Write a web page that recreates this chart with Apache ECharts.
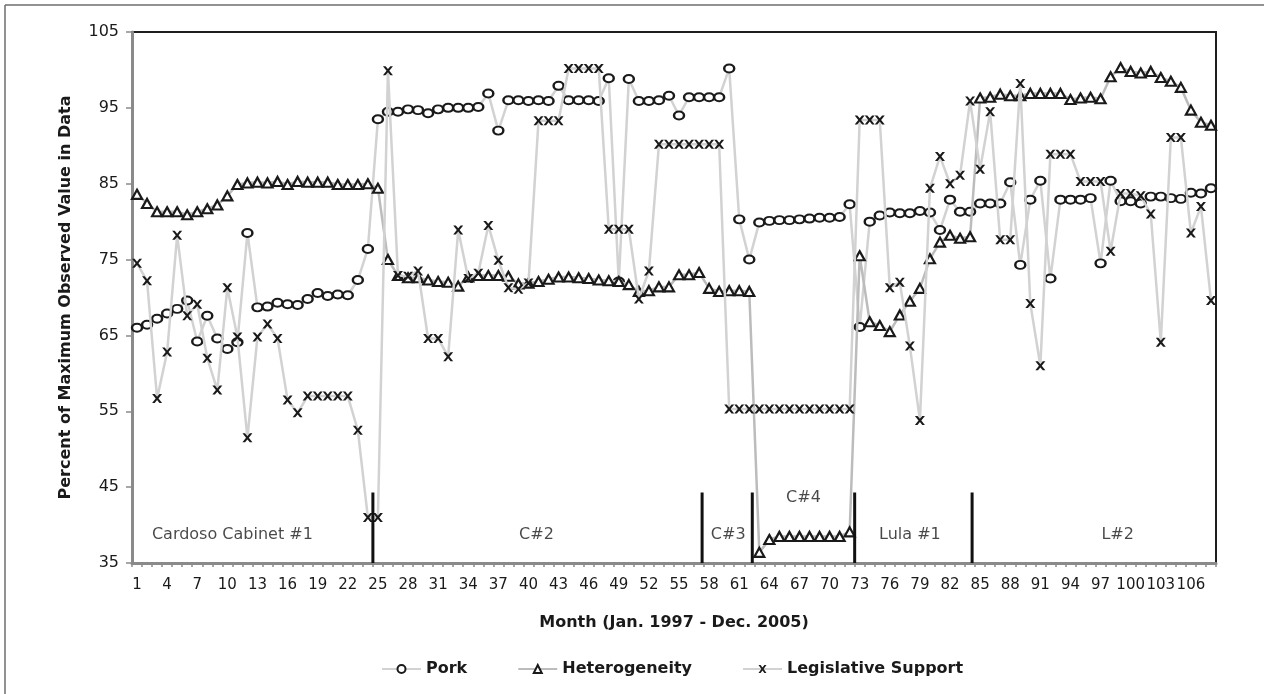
<!DOCTYPE html>
<html><head><meta charset="utf-8">
<script src="https://cdn.jsdelivr.net/npm/echarts@6/dist/echarts.min.js"></script>
<style>html,body{margin:0;padding:0;background:#fff}#c{width:1264px;height:694px}</style>
</head><body><div id="c"></div>
<script>
// Months 1..108 (Jan. 1997 - Dec. 2005)
const months = Array.from({length: 108}, (_, i) => String(i + 1));

const pork = [
  66.0, 66.4, 67.2, 67.9, 68.5, 69.6, 64.2, 67.6, 64.6, 63.2, 64.1, 78.5,
  68.7, 68.8, 69.3, 69.1, 69.0, 69.8, 70.6, 70.2, 70.4, 70.3, 72.3, 76.4,
  93.5, 94.5, 94.5, 94.8, 94.7, 94.3, 94.8, 95.0, 95.0, 95.0, 95.1, 96.9,
  92.0, 96.0, 96.0, 95.9, 96.0, 95.9, 97.9, 96.0, 96.0, 96.0, 95.9, 98.9,
  72.1, 98.8, 95.9, 95.9, 96.0, 96.6, 94.0, 96.4, 96.4, 96.4, 96.4, 100.2,
  80.3, 75.0, 79.9, 80.1, 80.2, 80.2, 80.3, 80.4, 80.5, 80.5, 80.6, 82.3,
  66.1, 80.0, 80.8, 81.2, 81.1, 81.1, 81.4, 81.2, 78.9, 82.9, 81.3, 81.3,
  82.4, 82.4, 82.4, 85.2, 74.3, 82.9, 85.4, 72.5, 82.9, 82.9, 82.9, 83.1,
  74.5, 85.4, 82.7, 82.7, 82.4, 83.3, 83.3, 83.1, 83.0, 83.8, 83.7, 84.4
];

const heterogeneity = [
  83.6, 82.4, 81.3, 81.3, 81.3, 80.9, 81.3, 81.7, 82.2, 83.4, 84.9, 85.1,
  85.2, 85.1, 85.3, 84.9, 85.3, 85.2, 85.2, 85.2, 84.9, 84.9, 84.9, 85.0,
  84.4, 75.0, 72.9, 72.6, 72.6, 72.3, 72.1, 72.0, 71.5, 72.7, 72.9, 72.9,
  72.9, 72.8, 71.8, 71.9, 72.1, 72.4, 72.7, 72.7, 72.6, 72.5, 72.3, 72.2,
  72.1, 71.7, 70.8, 70.9, 71.4, 71.4, 73.0, 73.0, 73.3, 71.2, 70.8, 70.9,
  70.9, 70.8, 36.4, 38.1, 38.5, 38.5, 38.5, 38.5, 38.5, 38.5, 38.5, 39.1,
  75.5, 66.8, 66.3, 65.5, 67.7, 69.5, 71.2, 75.1, 77.3, 78.2, 77.8, 78.0,
  96.3, 96.4, 96.8, 96.6, 96.6, 96.9, 96.9, 96.9, 96.9, 96.1, 96.3, 96.4,
  96.2, 99.1, 100.3, 99.8, 99.6, 99.8, 99.0, 98.5, 97.7, 94.7, 93.1, 92.7
];

const legislativeSupport = [
  74.5, 72.2, 56.7, 62.8, 78.2, 67.6, 69.1, 62.0, 57.8, 71.3, 64.8, 51.5,
  64.8, 66.5, 64.6, 56.5, 54.8, 57.0, 57.0, 57.0, 57.0, 57.0, 52.5, 41.0,
  41.0, 99.9, 72.9, 72.8, 73.5, 64.6, 64.6, 62.2, 78.9, 72.5, 73.2, 79.5,
  74.9, 71.3, 71.1, 71.9, 93.3, 93.3, 93.3, 100.2, 100.2, 100.2, 100.2, 79.0,
  79.0, 79.0, 69.8, 73.5, 90.2, 90.2, 90.2, 90.2, 90.2, 90.2, 90.2, 55.3,
  55.3, 55.3, 55.3, 55.3, 55.3, 55.3, 55.3, 55.3, 55.3, 55.3, 55.3, 55.3,
  93.4, 93.4, 93.4, 71.3, 72.0, 63.6, 53.8, 84.4, 88.6, 85.0, 86.1, 95.9,
  86.9, 94.5, 77.6, 77.6, 98.2, 69.2, 61.0, 88.9, 88.9, 88.9, 85.3, 85.3,
  85.3, 76.1, 83.7, 83.7, 83.4, 81.0, 64.1, 91.1, 91.1, 78.5, 82.0, 69.6
];

// Cabinet change markers (in month units from the start of the axis)
const cabinetBreaks = [24, 56.8, 61.8, 72, 83.7];
const cabinetBreakTop = 44.3;
const cabinetLabels = ['Cardoso Cabinet #1', 'C#2', 'C#3', 'C#4', 'Lula #1', 'L#2'];
const cabinetLabelX = [10, 40.3, 59.4, 66.9, 77.5, 98.2];
const cabinetLabelY = [38.7, 38.7, 38.7, 43.6, 38.7, 38.7];

const yMin = 35, yMax = 105, yStep = 10;

const FONT = "'DejaVu Sans', 'Liberation Sans', Arial, sans-serif";
const xPath = 'path://M0,0 L2.6,0 L5,3.2 L7.4,0 L10,0 L6.4,5 L10,10 L7.4,10 L5,6.8 L2.6,10 L0,10 L3.6,5 Z';

const chart = echarts.init(document.getElementById('c'), null, {renderer: 'canvas'});

const breakSeries = cabinetBreaks.map((b, i) => ({
  type: 'line', name: 'break' + i, xAxisIndex: 1, yAxisIndex: 0,
  data: [[b, yMin], [b, cabinetBreakTop]],
  symbol: 'none', lineStyle: {color: '#111', width: 3}, z: 5, silent: true
}));

chart.setOption({
  animation: false,
  textStyle: {fontFamily: FONT},
  grid: {left: 132, right: 48, top: 32, bottom: 131, show: true, borderColor: '#1e1e1e', borderWidth: 2},
  graphic: [
    {type: 'line', shape: {x1: 5, y1: 5, x2: 1264, y2: 5}, style: {stroke: '#6e6e6e', lineWidth: 1.5}},
    {type: 'line', shape: {x1: 5, y1: 5, x2: 5, y2: 694}, style: {stroke: '#6e6e6e', lineWidth: 1.5}}
  ],
  legend: {
    data: ['Pork', 'Heterogeneity', 'Legislative Support'],
    bottom: 17, left: 381, padding: 0,
    itemWidth: 39, itemHeight: 10, itemGap: 50,
    textStyle: {fontFamily: FONT, fontSize: 16, fontWeight: 'bold', color: '#1a1a1a'}
  },
  xAxis: [
    {
      type: 'category', data: months, boundaryGap: true,
      name: 'Month (Jan. 1997 - Dec. 2005)', nameLocation: 'middle', nameGap: 52,
      nameTextStyle: {fontFamily: FONT, fontSize: 16, fontWeight: 'bold', color: '#1a1a1a'},
      axisLine: {lineStyle: {color: '#8a8a8a', width: 3}},
      axisTick: {show: true, interval: 0, length: 4, lineStyle: {color: '#8a8a8a', width: 1.5}},
      axisLabel: {interval: 2, fontSize: 15, color: '#1a1a1a', margin: 15, fontFamily: FONT, hideOverlap: false},
      splitLine: {show: false}
    },
    {type: 'value', min: 0, max: 108, show: false}
  ],
  yAxis: {
    type: 'value', min: yMin, max: yMax, interval: yStep,
    name: 'Percent of Maximum Observed Value in Data', nameLocation: 'middle', nameGap: 58,
    nameTextStyle: {fontFamily: FONT, fontSize: 16, fontWeight: 'bold', color: '#1a1a1a'},
    axisLine: {show: true, lineStyle: {color: '#8a8a8a', width: 3}},
    axisTick: {show: true, length: 6, lineStyle: {color: '#8a8a8a', width: 1.5}},
    axisLabel: {fontSize: 16, color: '#1a1a1a', margin: 13, fontFamily: FONT},
    splitLine: {show: false}
  },
  series: [
    {
      type: 'line', name: 'Pork', data: pork, showAllSymbol: true,
      symbol: 'circle', symbolSize: [10, 8],
      lineStyle: {color: '#d2d2d2', width: 2.5},
      itemStyle: {color: '#ffffff', borderColor: '#1a1a1a', borderWidth: 2.2},
      z: 2
    },
    {
      type: 'line', name: 'Heterogeneity', data: heterogeneity, showAllSymbol: true,
      symbol: 'triangle', symbolSize: [10, 9],
      lineStyle: {color: '#bcbcbc', width: 2.5},
      itemStyle: {color: '#ffffff', borderColor: '#1a1a1a', borderWidth: 2.2},
      z: 3
    },
    {
      type: 'line', name: 'Legislative Support', data: legislativeSupport, showAllSymbol: true,
      symbol: xPath, symbolSize: [10, 9],
      lineStyle: {color: '#d2d2d2', width: 2.5},
      itemStyle: {color: '#1a1a1a', borderWidth: 0},
      z: 4
    },
    ...breakSeries,
    {
      type: 'scatter', name: 'cabinets', xAxisIndex: 1, yAxisIndex: 0,
      data: cabinetLabels.map((t, i) => ({name: t, value: [cabinetLabelX[i], cabinetLabelY[i]]})),
      symbolSize: 0, silent: true, z: 6,
      label: {show: true, position: 'inside', formatter: '{b}', fontSize: 16, color: '#1a1a1a', fontFamily: FONT}
    }
  ]
});
</script>
</body></html>
